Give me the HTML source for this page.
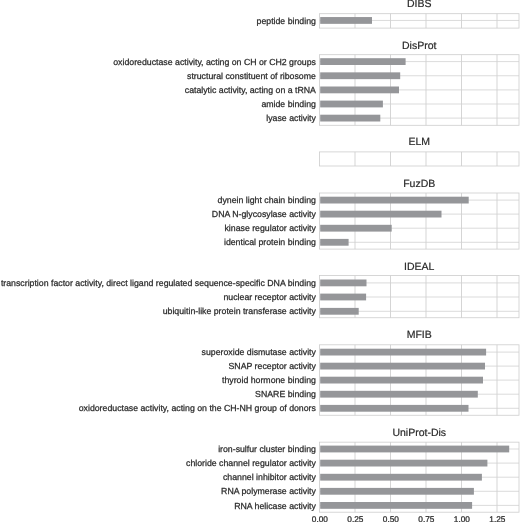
<!DOCTYPE html>
<html><head><meta charset="utf-8"><title>chart</title>
<style>
html,body{margin:0;padding:0;background:#fff;}
body{width:520px;height:522px;overflow:hidden;position:relative;font-family:"Liberation Sans",sans-serif;color:#2a2a2a;}
text{font-family:"Liberation Sans",sans-serif;fill:#2a2a2a;text-rendering:geometricPrecision;}
.yl{font-size:8.75px;text-anchor:end;stroke:#2a2a2a;stroke-width:0.25px;}
.tt{font-size:10.50px;text-anchor:middle;stroke:#2a2a2a;stroke-width:0.2px;}
.xl{font-size:8.30px;text-anchor:middle;stroke:#2a2a2a;stroke-width:0.25px;}
</style></head><body>

<svg width="520" height="522" viewBox="0 0 520 522" style="position:absolute;left:0;top:0">
<line x1="355.00" y1="13.70" x2="355.00" y2="28.10" stroke="#cacaca" stroke-width="0.80"/>
<line x1="390.50" y1="13.70" x2="390.50" y2="28.10" stroke="#cacaca" stroke-width="0.80"/>
<line x1="426.00" y1="13.70" x2="426.00" y2="28.10" stroke="#cacaca" stroke-width="0.80"/>
<line x1="461.50" y1="13.70" x2="461.50" y2="28.10" stroke="#cacaca" stroke-width="0.80"/>
<line x1="497.00" y1="13.70" x2="497.00" y2="28.10" stroke="#cacaca" stroke-width="0.80"/>
<line x1="319.50" y1="20.45" x2="519.00" y2="20.45" stroke="#d2d2d2" stroke-width="0.80"/>
<rect x="319.50" y="13.70" width="199.50" height="14.40" fill="none" stroke="#cdcdcd" stroke-width="0.80"/>
<rect x="320.20" y="17.05" width="51.80" height="6.80" fill="#959699"/>
<line x1="355.00" y1="54.70" x2="355.00" y2="125.30" stroke="#cacaca" stroke-width="0.80"/>
<line x1="390.50" y1="54.70" x2="390.50" y2="125.30" stroke="#cacaca" stroke-width="0.80"/>
<line x1="426.00" y1="54.70" x2="426.00" y2="125.30" stroke="#cacaca" stroke-width="0.80"/>
<line x1="461.50" y1="54.70" x2="461.50" y2="125.30" stroke="#cacaca" stroke-width="0.80"/>
<line x1="497.00" y1="54.70" x2="497.00" y2="125.30" stroke="#cacaca" stroke-width="0.80"/>
<line x1="319.50" y1="61.60" x2="519.00" y2="61.60" stroke="#d2d2d2" stroke-width="0.80"/>
<line x1="319.50" y1="75.75" x2="519.00" y2="75.75" stroke="#d2d2d2" stroke-width="0.80"/>
<line x1="319.50" y1="89.90" x2="519.00" y2="89.90" stroke="#d2d2d2" stroke-width="0.80"/>
<line x1="319.50" y1="104.00" x2="519.00" y2="104.00" stroke="#d2d2d2" stroke-width="0.80"/>
<line x1="319.50" y1="118.10" x2="519.00" y2="118.10" stroke="#d2d2d2" stroke-width="0.80"/>
<rect x="319.50" y="54.70" width="199.50" height="70.60" fill="none" stroke="#cdcdcd" stroke-width="0.80"/>
<rect x="320.20" y="58.20" width="85.40" height="6.80" fill="#959699"/>
<rect x="320.20" y="72.35" width="80.00" height="6.80" fill="#959699"/>
<rect x="320.20" y="86.50" width="78.80" height="6.80" fill="#959699"/>
<rect x="320.20" y="100.60" width="62.70" height="6.80" fill="#959699"/>
<rect x="320.20" y="114.70" width="60.10" height="6.80" fill="#959699"/>
<line x1="355.00" y1="151.90" x2="355.00" y2="166.00" stroke="#cacaca" stroke-width="0.80"/>
<line x1="390.50" y1="151.90" x2="390.50" y2="166.00" stroke="#cacaca" stroke-width="0.80"/>
<line x1="426.00" y1="151.90" x2="426.00" y2="166.00" stroke="#cacaca" stroke-width="0.80"/>
<line x1="461.50" y1="151.90" x2="461.50" y2="166.00" stroke="#cacaca" stroke-width="0.80"/>
<line x1="497.00" y1="151.90" x2="497.00" y2="166.00" stroke="#cacaca" stroke-width="0.80"/>
<rect x="319.50" y="151.90" width="199.50" height="14.10" fill="none" stroke="#cdcdcd" stroke-width="0.80"/>
<line x1="355.00" y1="193.00" x2="355.00" y2="249.10" stroke="#cacaca" stroke-width="0.80"/>
<line x1="390.50" y1="193.00" x2="390.50" y2="249.10" stroke="#cacaca" stroke-width="0.80"/>
<line x1="426.00" y1="193.00" x2="426.00" y2="249.10" stroke="#cacaca" stroke-width="0.80"/>
<line x1="461.50" y1="193.00" x2="461.50" y2="249.10" stroke="#cacaca" stroke-width="0.80"/>
<line x1="497.00" y1="193.00" x2="497.00" y2="249.10" stroke="#cacaca" stroke-width="0.80"/>
<line x1="319.50" y1="200.10" x2="519.00" y2="200.10" stroke="#d2d2d2" stroke-width="0.80"/>
<line x1="319.50" y1="214.10" x2="519.00" y2="214.10" stroke="#d2d2d2" stroke-width="0.80"/>
<line x1="319.50" y1="228.20" x2="519.00" y2="228.20" stroke="#d2d2d2" stroke-width="0.80"/>
<line x1="319.50" y1="242.30" x2="519.00" y2="242.30" stroke="#d2d2d2" stroke-width="0.80"/>
<rect x="319.50" y="193.00" width="199.50" height="56.10" fill="none" stroke="#cdcdcd" stroke-width="0.80"/>
<rect x="320.20" y="196.70" width="148.50" height="6.80" fill="#959699"/>
<rect x="320.20" y="210.70" width="121.30" height="6.80" fill="#959699"/>
<rect x="320.20" y="224.80" width="71.50" height="6.80" fill="#959699"/>
<rect x="320.20" y="238.90" width="28.40" height="6.80" fill="#959699"/>
<line x1="355.00" y1="275.55" x2="355.00" y2="317.75" stroke="#cacaca" stroke-width="0.80"/>
<line x1="390.50" y1="275.55" x2="390.50" y2="317.75" stroke="#cacaca" stroke-width="0.80"/>
<line x1="426.00" y1="275.55" x2="426.00" y2="317.75" stroke="#cacaca" stroke-width="0.80"/>
<line x1="461.50" y1="275.55" x2="461.50" y2="317.75" stroke="#cacaca" stroke-width="0.80"/>
<line x1="497.00" y1="275.55" x2="497.00" y2="317.75" stroke="#cacaca" stroke-width="0.80"/>
<line x1="319.50" y1="282.90" x2="519.00" y2="282.90" stroke="#d2d2d2" stroke-width="0.80"/>
<line x1="319.50" y1="297.00" x2="519.00" y2="297.00" stroke="#d2d2d2" stroke-width="0.80"/>
<line x1="319.50" y1="311.30" x2="519.00" y2="311.30" stroke="#d2d2d2" stroke-width="0.80"/>
<rect x="319.50" y="275.55" width="199.50" height="42.20" fill="none" stroke="#cdcdcd" stroke-width="0.80"/>
<rect x="320.20" y="279.50" width="46.30" height="6.80" fill="#959699"/>
<rect x="320.20" y="293.60" width="45.90" height="6.80" fill="#959699"/>
<rect x="320.20" y="307.90" width="38.50" height="6.80" fill="#959699"/>
<line x1="355.00" y1="344.80" x2="355.00" y2="415.25" stroke="#cacaca" stroke-width="0.80"/>
<line x1="390.50" y1="344.80" x2="390.50" y2="415.25" stroke="#cacaca" stroke-width="0.80"/>
<line x1="426.00" y1="344.80" x2="426.00" y2="415.25" stroke="#cacaca" stroke-width="0.80"/>
<line x1="461.50" y1="344.80" x2="461.50" y2="415.25" stroke="#cacaca" stroke-width="0.80"/>
<line x1="497.00" y1="344.80" x2="497.00" y2="415.25" stroke="#cacaca" stroke-width="0.80"/>
<line x1="319.50" y1="352.10" x2="519.00" y2="352.10" stroke="#d2d2d2" stroke-width="0.80"/>
<line x1="319.50" y1="366.10" x2="519.00" y2="366.10" stroke="#d2d2d2" stroke-width="0.80"/>
<line x1="319.50" y1="380.10" x2="519.00" y2="380.10" stroke="#d2d2d2" stroke-width="0.80"/>
<line x1="319.50" y1="394.20" x2="519.00" y2="394.20" stroke="#d2d2d2" stroke-width="0.80"/>
<line x1="319.50" y1="408.30" x2="519.00" y2="408.30" stroke="#d2d2d2" stroke-width="0.80"/>
<rect x="319.50" y="344.80" width="199.50" height="70.45" fill="none" stroke="#cdcdcd" stroke-width="0.80"/>
<rect x="320.20" y="348.70" width="165.90" height="6.80" fill="#959699"/>
<rect x="320.20" y="362.70" width="164.80" height="6.80" fill="#959699"/>
<rect x="320.20" y="376.70" width="162.80" height="6.80" fill="#959699"/>
<rect x="320.20" y="390.80" width="157.60" height="6.80" fill="#959699"/>
<rect x="320.20" y="404.90" width="148.30" height="6.80" fill="#959699"/>
<line x1="355.00" y1="442.15" x2="355.00" y2="512.20" stroke="#cacaca" stroke-width="0.80"/>
<line x1="390.50" y1="442.15" x2="390.50" y2="512.20" stroke="#cacaca" stroke-width="0.80"/>
<line x1="426.00" y1="442.15" x2="426.00" y2="512.20" stroke="#cacaca" stroke-width="0.80"/>
<line x1="461.50" y1="442.15" x2="461.50" y2="512.20" stroke="#cacaca" stroke-width="0.80"/>
<line x1="497.00" y1="442.15" x2="497.00" y2="512.20" stroke="#cacaca" stroke-width="0.80"/>
<line x1="319.50" y1="449.00" x2="519.00" y2="449.00" stroke="#d2d2d2" stroke-width="0.80"/>
<line x1="319.50" y1="463.10" x2="519.00" y2="463.10" stroke="#d2d2d2" stroke-width="0.80"/>
<line x1="319.50" y1="477.20" x2="519.00" y2="477.20" stroke="#d2d2d2" stroke-width="0.80"/>
<line x1="319.50" y1="491.30" x2="519.00" y2="491.30" stroke="#d2d2d2" stroke-width="0.80"/>
<line x1="319.50" y1="505.40" x2="519.00" y2="505.40" stroke="#d2d2d2" stroke-width="0.80"/>
<rect x="319.50" y="442.15" width="199.50" height="70.05" fill="none" stroke="#cdcdcd" stroke-width="0.80"/>
<rect x="320.20" y="445.60" width="189.00" height="6.80" fill="#959699"/>
<rect x="320.20" y="459.70" width="167.20" height="6.80" fill="#959699"/>
<rect x="320.20" y="473.80" width="161.70" height="6.80" fill="#959699"/>
<rect x="320.20" y="487.90" width="153.70" height="6.80" fill="#959699"/>
<rect x="320.20" y="502.00" width="151.90" height="6.80" fill="#959699"/>
<text class="yl" x="315.90" y="23.55">peptide binding</text>
<text class="tt" x="419.25" y="7.20">DIBS</text>
<text class="yl" x="315.90" y="64.70">oxidoreductase activity, acting on CH or CH2 groups</text>
<text class="yl" x="315.90" y="78.85">structural constituent of ribosome</text>
<text class="yl" x="315.90" y="93.00">catalytic activity, acting on a tRNA</text>
<text class="yl" x="315.90" y="107.10">amide binding</text>
<text class="yl" x="315.90" y="121.20">lyase activity</text>
<text class="tt" x="419.25" y="48.80">DisProt</text>
<text class="tt" x="419.25" y="145.30">ELM</text>
<text class="yl" x="315.90" y="203.20">dynein light chain binding</text>
<text class="yl" x="315.90" y="217.20">DNA N-glycosylase activity</text>
<text class="yl" x="315.90" y="231.30">kinase regulator activity</text>
<text class="yl" x="315.90" y="245.40">identical protein binding</text>
<text class="tt" x="419.25" y="186.70">FuzDB</text>
<text class="yl" x="315.90" y="286.00">transcription factor activity, direct ligand regulated sequence-specific DNA binding</text>
<text class="yl" x="315.90" y="300.10">nuclear receptor activity</text>
<text class="yl" x="315.90" y="314.00">ubiquitin-like protein transferase activity</text>
<text class="tt" x="419.25" y="269.70">IDEAL</text>
<text class="yl" x="315.90" y="355.20">superoxide dismutase activity</text>
<text class="yl" x="315.90" y="369.20">SNAP receptor activity</text>
<text class="yl" x="315.90" y="383.20">thyroid hormone binding</text>
<text class="yl" x="315.90" y="397.30">SNARE binding</text>
<text class="yl" x="315.90" y="411.40">oxidoreductase activity, acting on the CH-NH group of donors</text>
<text class="tt" x="419.25" y="338.00">MFIB</text>
<text class="yl" x="315.90" y="452.10">iron-sulfur cluster binding</text>
<text class="yl" x="315.90" y="466.20">chloride channel regulator activity</text>
<text class="yl" x="315.90" y="480.30">channel inhibitor activity</text>
<text class="yl" x="315.90" y="494.40">RNA polymerase activity</text>
<text class="yl" x="315.90" y="508.50">RNA helicase activity</text>
<text class="tt" x="419.25" y="435.85">UniProt-Dis</text>
<text class="xl" x="319.90" y="522.05">0.00</text>
<text class="xl" x="355.40" y="522.05">0.25</text>
<text class="xl" x="390.90" y="522.05">0.50</text>
<text class="xl" x="426.40" y="522.05">0.75</text>
<text class="xl" x="461.90" y="522.05">1.00</text>
<text class="xl" x="497.40" y="522.05">1.25</text>
</svg>
</body></html>
